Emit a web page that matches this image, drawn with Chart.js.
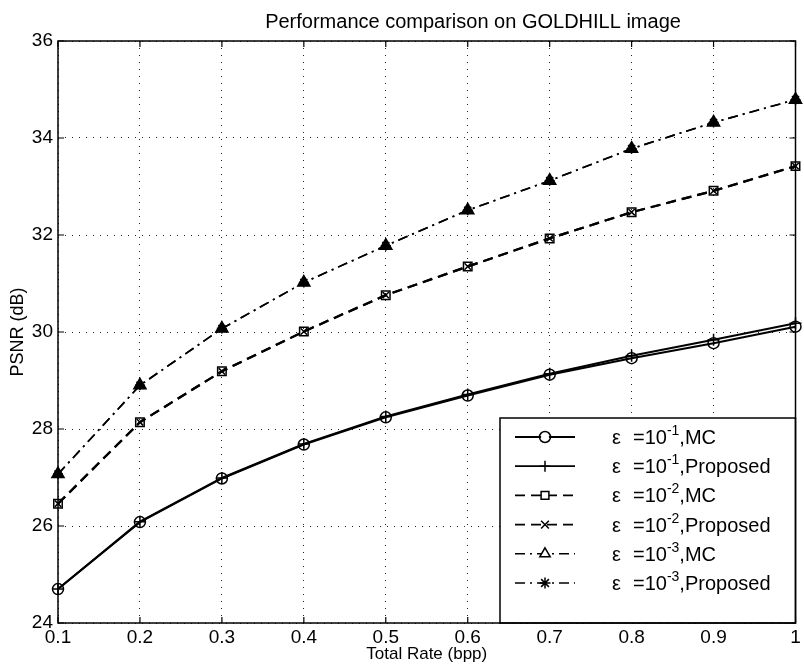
<!DOCTYPE html>
<html>
<head>
<meta charset="utf-8">
<script src="https://cdn.jsdelivr.net/npm/chart.js@4.4.1/dist/chart.umd.min.js"></script>
<style>
  body { margin: 0; background: #fff; }
  #wrap { width: 804px; height: 672px; }
</style>
</head>
<body>
<div id="wrap"><canvas id="myChart" width="804" height="672"></canvas></div>
<script>
const FONT = "'Liberation Sans', Arial, Helvetica, sans-serif";

const rates = [0.1, 0.2, 0.3, 0.4, 0.5, 0.6, 0.7, 0.8, 0.9, 1.0];
const mc1 = [24.70, 26.08, 26.98, 27.68, 28.24, 28.69, 29.12, 29.46, 29.77, 30.11];
const prop1 = [24.70, 26.09, 26.99, 27.69, 28.26, 28.71, 29.14, 29.51, 29.84, 30.18];
const mc2 = [26.46, 28.14, 29.19, 30.01, 30.76, 31.35, 31.93, 32.47, 32.91, 33.42];
const prop2 = [26.46, 28.14, 29.19, 30.01, 30.76, 31.35, 31.93, 32.47, 32.91, 33.42];
const mc3 = [27.07, 28.90, 30.07, 31.02, 31.78, 32.51, 33.12, 33.78, 34.32, 34.79];
const prop3 = [27.07, 28.90, 30.07, 31.02, 31.78, 32.51, 33.12, 33.78, 34.32, 34.79];

const xTicks = [0.1, 0.2, 0.3, 0.4, 0.5, 0.6, 0.7, 0.8, 0.9, 1];
const xTickLabels = ["0.1", "0.2", "0.3", "0.4", "0.5", "0.6", "0.7", "0.8", "0.9", "1"];
const yTicks = [24, 26, 28, 30, 32, 34, 36];

// legend text: epsilon exponent and method name
const legendExp = ["-1", "-1", "-2", "-2", "-3", "-3"];
const legendName = ["MC", "Proposed", "MC", "Proposed", "MC", "Proposed"];

const solid = [];
const dashed = [10, 6];
const dashDot = [10, 5, 2, 5];

function pts(ys) {
  return rates.map((r, i) => ({x: r, y: ys[i]}));
}

function series(ys, dash, width, style, radius, fill) {
  return {
    data: pts(ys),
    borderColor: "#000",
    borderWidth: width,
    borderDash: dash,
    pointStyle: style,
    pointRadius: radius,
    pointBorderWidth: 1.5,
    pointBorderColor: "#000",
    pointBackgroundColor: fill,
    fill: false,
    tension: 0,
    clip: false
  };
}

const datasets = [
  series(mc1, solid, 2, "circle", 5.5, "rgba(0,0,0,0)"),
  series(prop1, solid, 2, "cross", 6, "rgba(0,0,0,0)"),
  series(mc2, dashed, 2.2, "rect", 6, "rgba(0,0,0,0)"),
  series(prop2, dashed, 2.2, "crossRot", 4.5, "rgba(0,0,0,0)"),
  series(mc3, dashDot, 1.6, "triangle", 7, "#000"),
  series(prop3, dashDot, 1.6, "star", 5, "#000")
];

function drawMarker(ctx, style, x, y, r) {
  ctx.beginPath();
  if (style === "circle") {
    ctx.arc(x, y, r, 0, Math.PI * 2);
  } else if (style === "cross") {
    ctx.moveTo(x - r, y); ctx.lineTo(x + r, y);
    ctx.moveTo(x, y - r); ctx.lineTo(x, y + r);
  } else if (style === "rect") {
    const s = r * Math.SQRT1_2;
    ctx.rect(x - s, y - s, 2 * s, 2 * s);
  } else if (style === "crossRot") {
    const s = r * Math.SQRT1_2;
    ctx.moveTo(x - s, y - s); ctx.lineTo(x + s, y + s);
    ctx.moveTo(x - s, y + s); ctx.lineTo(x + s, y - s);
  } else if (style === "triangle") {
    ctx.moveTo(x, y - r);
    ctx.lineTo(x + r * 0.866, y + r * 0.5);
    ctx.lineTo(x - r * 0.866, y + r * 0.5);
    ctx.closePath();
  } else if (style === "star") {
    const s = r * Math.SQRT1_2;
    ctx.moveTo(x - r, y); ctx.lineTo(x + r, y);
    ctx.moveTo(x, y - r); ctx.lineTo(x, y + r);
    ctx.moveTo(x - s, y - s); ctx.lineTo(x + s, y + s);
    ctx.moveTo(x - s, y + s); ctx.lineTo(x + s, y - s);
  }
  ctx.stroke();
}

const matlabFrame = {
  id: "matlabFrame",
  afterDatasetsDraw(chart) {
    const ctx = chart.ctx;
    const a = chart.chartArea;
    const xs = chart.scales.x, ys = chart.scales.y;
    ctx.save();
    ctx.strokeStyle = "#000";
    ctx.lineWidth = 1.2;
    ctx.setLineDash([]);
    ctx.beginPath();
    xTicks.forEach(v => {
      const px = xs.getPixelForValue(v);
      ctx.moveTo(px, a.top); ctx.lineTo(px, a.top + 6);
      ctx.moveTo(px, a.bottom); ctx.lineTo(px, a.bottom - 6);
    });
    yTicks.forEach(v => {
      const py = ys.getPixelForValue(v);
      ctx.moveTo(a.left, py); ctx.lineTo(a.left + 6, py);
      ctx.moveTo(a.right, py); ctx.lineTo(a.right - 6, py);
    });
    ctx.stroke();

    // legend box
    const lx = 500, ly = 418, lw = a.right - lx, lh = a.bottom - ly;
    ctx.fillStyle = "#fff";
    ctx.fillRect(lx, ly, lw, lh);
    ctx.lineWidth = 1.5;
    ctx.strokeRect(lx, ly, lw, lh);

    chart.data.datasets.forEach((ds, i) => {
      const y = 437 + i * 29.2;
      ctx.lineWidth = Math.min(ds.borderWidth, 1.8);
      ctx.setLineDash(ds.borderDash);
      ctx.beginPath();
      ctx.moveTo(515, y); ctx.lineTo(575, y);
      ctx.stroke();
      ctx.setLineDash([]);
      ctx.lineWidth = 1.5;
      if (ds.pointStyle === "circle" || ds.pointStyle === "rect" || ds.pointStyle === "triangle") {
        ctx.fillStyle = "#fff";
        ctx.beginPath();
        ctx.arc(545, y, 4, 0, Math.PI * 2);
        ctx.fill();
      }
      drawMarker(ctx, ds.pointStyle, 545, y, ds.pointStyle === "triangle" ? 6 : 5.5);

      ctx.fillStyle = "#000";
      ctx.textBaseline = "alphabetic";
      ctx.textAlign = "left";
      const base = y + 7;
      ctx.font = "20px " + FONT;
      ctx.fillText("\u03b5", 612, base);
      ctx.fillText("=10", 633, base);
      let x = 633 + ctx.measureText("=10").width;
      ctx.font = "14px " + FONT;
      ctx.fillText(legendExp[i], x, base - 9);
      x += ctx.measureText(legendExp[i]).width;
      ctx.font = "20px " + FONT;
      ctx.fillText("," + legendName[i], x, base);
    });
    ctx.restore();
  },
  afterDraw(chart) {
    const ctx = chart.ctx;
    const a = chart.chartArea;
    ctx.save();
    ctx.strokeStyle = "#000";
    ctx.lineWidth = 1.5;
    ctx.setLineDash([]);
    ctx.strokeRect(a.left, a.top, a.right - a.left, a.bottom - a.top);
    ctx.fillStyle = "#000";
    ctx.font = "20px " + FONT;
    ctx.textAlign = "center";
    ctx.textBaseline = "alphabetic";
    ctx.fillText("Performance comparison on GOLDHILL image", 473, 28);
    ctx.restore();
  }
};

new Chart("myChart", {
  type: "line",
  data: { datasets: datasets },
  plugins: [matlabFrame],
  options: {
    responsive: false,
    animation: false,
    events: [],
    layout: { padding: { top: 41, right: 5, left: 0, bottom: 0 } },
    plugins: { legend: { display: false }, tooltip: { enabled: false }, title: { display: false } },
    scales: {
      x: {
        type: "linear",
        min: 0.1,
        max: 1,
        afterBuildTicks: s => { s.ticks = xTicks.map(v => ({value: v})); },
        afterFit: s => { s.height = 49; },
        ticks: {
          color: "#000",
          font: { family: FONT, size: 19 },
          padding: 3,
          maxRotation: 0,
          autoSkip: false,
          callback: (v, i) => xTickLabels[i]
        },
        grid: { color: "#222", lineWidth: 1, drawTicks: false },
        border: { display: false, dash: [1, 6] },
        title: {
          display: true,
          text: "Total Rate (bpp)",
          color: "#000",
          font: { family: FONT, size: 17 },
          padding: { top: 0, bottom: 7 }
        }
      },
      y: {
        min: 24,
        max: 36,
        afterBuildTicks: s => { s.ticks = yTicks.map(v => ({value: v})); },
        afterFit: s => { s.width = 58; },
        ticks: {
          color: "#000",
          font: { family: FONT, size: 19 },
          padding: 5,
          autoSkip: false,
          callback: v => String(v)
        },
        grid: { color: "#222", lineWidth: 1, drawTicks: false },
        border: { display: false, dash: [1, 6] },
        title: {
          display: true,
          text: "PSNR (dB)",
          color: "#000",
          font: { family: FONT, size: 18 },
          padding: { top: 7, bottom: 0 }
        }
      }
    }
  }
});
</script>
</body>
</html>
